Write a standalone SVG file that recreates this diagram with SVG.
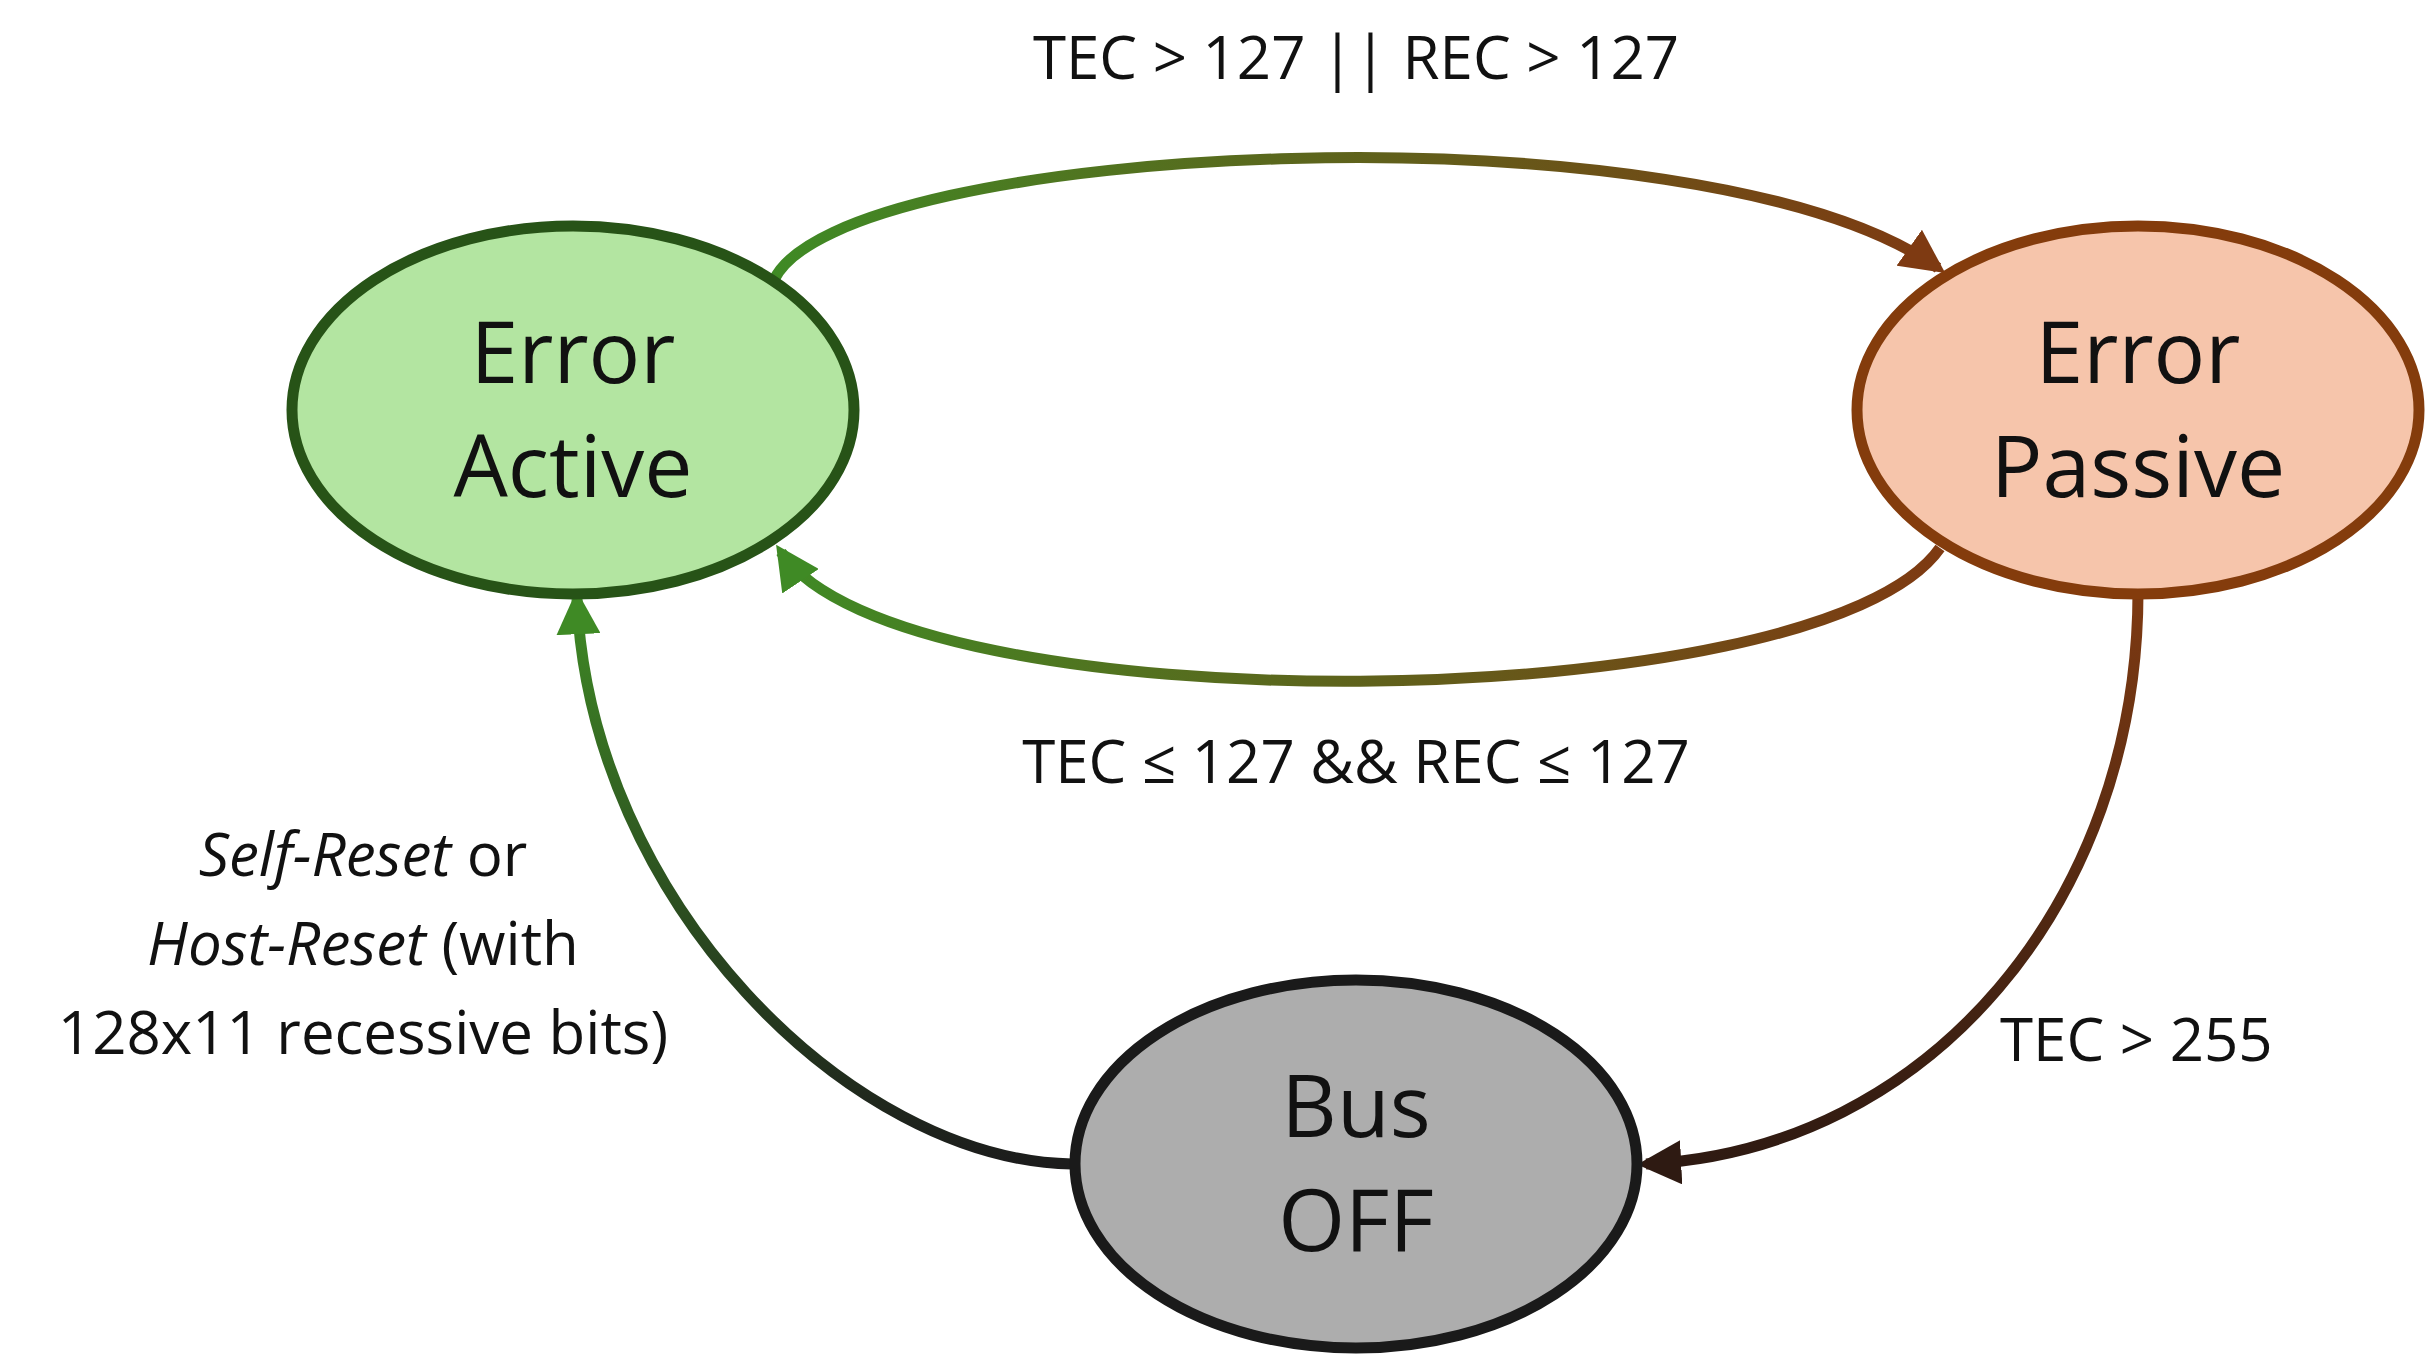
<svg xmlns="http://www.w3.org/2000/svg" width="2431" height="1361" viewBox="0 0 2431 1361">
<style>
.n{stroke-width:11}
.t{font-family:"Open Sans","Liberation Sans",sans-serif;font-size:86px;text-anchor:middle;fill:#111}
.l{font-family:"Open Sans","Liberation Sans",sans-serif;font-size:60px;fill:#111}
.c{fill:none;stroke-width:11}
</style>
<defs>
<linearGradient id="g1" gradientUnits="userSpaceOnUse" x1="774" y1="0" x2="1940" y2="0"><stop offset="0" stop-color="#3f8a25"/><stop offset="1" stop-color="#7e3a12"/></linearGradient>
<linearGradient id="g2" gradientUnits="userSpaceOnUse" x1="1940" y1="0" x2="779" y2="0"><stop offset="0" stop-color="#7e3a12"/><stop offset="1" stop-color="#3f8a25"/></linearGradient>
<linearGradient id="g3" gradientUnits="userSpaceOnUse" x1="0" y1="592" x2="0" y2="1164"><stop offset="0" stop-color="#7e3a12"/><stop offset="1" stop-color="#2e1a12"/></linearGradient>
<linearGradient id="g4" gradientUnits="userSpaceOnUse" x1="0" y1="1164" x2="0" y2="597"><stop offset="0" stop-color="#1c1c1c"/><stop offset="1" stop-color="#3f8a25"/></linearGradient>
<marker id="mb" viewBox="0 0 10 10" refX="8" refY="5" markerWidth="4" markerHeight="4" orient="auto"><path d="M0,0L10,5L0,10z" fill="#7e3a12"/></marker>
<marker id="mg" viewBox="0 0 10 10" refX="8" refY="5" markerWidth="4" markerHeight="4" orient="auto"><path d="M0,0L10,5L0,10z" fill="#3f8a25"/></marker>
<marker id="md" viewBox="0 0 10 10" refX="8" refY="5" markerWidth="4" markerHeight="4" orient="auto"><path d="M0,0L10,5L0,10z" fill="#2e1a12"/></marker>
</defs>
<g id="connectors">
<path class="c" stroke="url(#g1)" d="M774,280 C840,140 1700,100 1938,268" marker-end="url(#mb)"/>
<path class="c" stroke="url(#g2)" d="M1940,548 C1820,720 900,730 781,552" marker-end="url(#mg)"/>
<path class="c" stroke="url(#g3)" d="M2138,592 C2138,900 1930,1150 1646,1164" marker-end="url(#md)"/>
<path class="c" stroke="url(#g4)" d="M1072,1164 C850,1160 590,900 577,599" marker-end="url(#mg)"/>
</g>
<g id="errorActive"><ellipse class="n" cx="573" cy="410" rx="281" ry="184" fill="#b3e5a1" stroke="#275317"/><text class="t" x="573" y="383">Error</text><text class="t" x="573" y="497">Active</text></g>
<g id="errorPassive"><ellipse class="n" cx="2138" cy="410" rx="281" ry="184" fill="#f6c5ab" stroke="#843c0c"/><text class="t" x="2138" y="383">Error</text><text class="t" x="2138" y="497">Passive</text></g>
<g id="busOff"><ellipse class="n" cx="1356" cy="1164" rx="281" ry="184" fill="#adadad" stroke="#1a1a1a"/><text class="t" x="1356" y="1137">Bus</text><text class="t" x="1356" y="1251">OFF</text></g>
<g id="labels">
<text class="l" x="1356" y="79" text-anchor="middle">TEC &gt; 127 || REC &gt; 127</text>
<text class="l" x="1356" y="783" text-anchor="middle">TEC ≤ 127 &amp;&amp; REC ≤ 127</text>
<text class="l" x="363" y="876" text-anchor="middle"><tspan font-style="italic">Self-Reset</tspan> or</text>
<text class="l" x="363" y="965" text-anchor="middle"><tspan font-style="italic">Host-Reset</tspan> (with</text>
<text class="l" x="363" y="1054" text-anchor="middle">128x11 recessive bits)</text>
<text class="l" x="2000" y="1061">TEC &gt; 255</text>
</g>
</svg>
